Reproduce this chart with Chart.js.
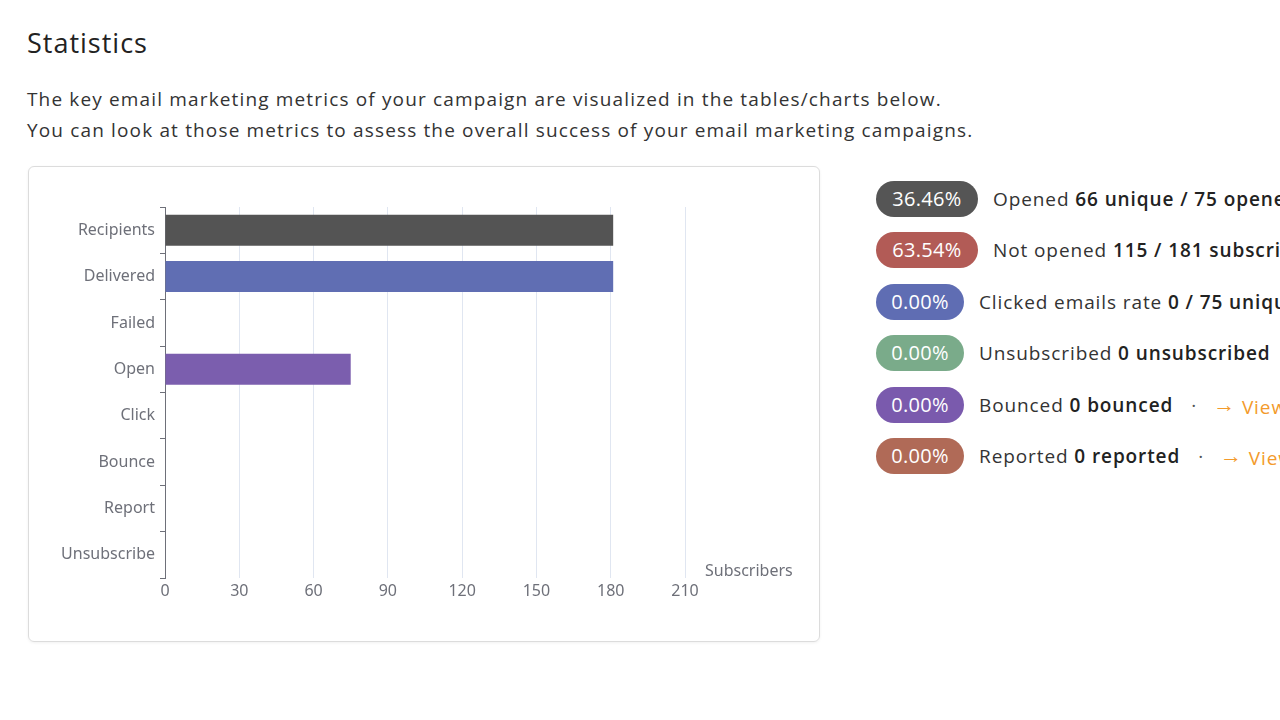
<!DOCTYPE html>
<html lang="en">
<head>
<meta charset="UTF-8">
<title>Statistics</title>
<script src="https://cdn.jsdelivr.net/npm/chart.js"></script>
<style>
    body { margin: 0; width: 1280px; height: 720px; overflow: hidden; background: #fff; font-family: "Open Sans", sans-serif; color: #2b2b2b; position: relative; }
    h2 { position: absolute; left: 27px; top: 25px; margin: 0; font-weight: 400; font-size: 27px; letter-spacing: 1px; line-height: 36px; color: #222; }
    .intro { position: absolute; left: 27px; top: 84px; margin: 0; font-size: 19px; letter-spacing: 1.15px; line-height: 31px; color: #333; white-space: nowrap; }
    .card { position: absolute; left: 28px; top: 166px; width: 790px; height: 474px; border: 1px solid #dcdcdc; border-radius: 6px; box-shadow: 0 1px 3px rgba(0,0,0,0.06); }
    .card canvas { position: absolute; left: 0; top: 0; }
    .stats { position: absolute; left: 876px; top: 181px; width: 404px; overflow: hidden; }
    .row { height: 36px; margin-bottom: 15.4px; display: flex; align-items: center; white-space: nowrap; font-size: 19px; letter-spacing: 0.9px; color: #333; }
    .pill { display: inline-block; height: 36px; line-height: 36px; border-radius: 18px; color: #fff; font-size: 20px; letter-spacing: 0.3px; text-align: center; margin-right: 15px; flex: none; }
    .row b { font-weight: 600; color: #222; }
    .dot { margin: 0 16px 0 18px; color: #555; }
    .view { color: #f39a2b; }
    .view span { font-size: 22px; position: relative; top: -2px; }
</style>
</head>
<body>
<h2>Statistics</h2>
<p class="intro">The key email marketing metrics of your campaign are visualized in the tables/charts below.<br>You can look at those metrics to assess the overall success of your email marketing campaigns.</p>

<div class="card"><canvas id="chart" width="790" height="474"></canvas></div>

<div class="stats">
    <div class="row"><span class="pill" style="background:#555555;width:102px">36.46%</span>Opened&nbsp;<b>66 unique / 75 opened</b></div>
    <div class="row"><span class="pill" style="background:#b25b56;width:102px">63.54%</span>Not opened&nbsp;<b>115 / 181 subscribers</b></div>
    <div class="row"><span class="pill" style="background:#5f6db3;width:88px">0.00%</span>Clicked emails rate&nbsp;<b>0 / 75 unique opened</b></div>
    <div class="row"><span class="pill" style="background:#7aab8a;width:88px">0.00%</span>Unsubscribed&nbsp;<b>0 unsubscribed</b></div>
    <div class="row"><span class="pill" style="background:#7a5aad;width:88px">0.00%</span>Bounced&nbsp;<b>0 bounced</b><span class="dot">·</span><span class="view"><span>→</span> View</span></div>
    <div class="row"><span class="pill" style="background:#b06a57;width:88px">0.00%</span>Reported&nbsp;<b>0 reported</b><span class="dot">·</span><span class="view"><span>→</span> View</span></div>
</div>

<script>
    const categories = ["Recipients", "Delivered", "Failed", "Open", "Click", "Bounce", "Report", "Unsubscribe"];
    const subscribers = [181, 181, 0, 75, 0, 0, 0, 0];
    const barColors = ["#545454", "#606eb3", "#b25b56", "#7b5eae", "#5f6db3", "#7a5aad", "#b06a57", "#7aab8a"];
    const xTicks = [0, 30, 60, 90, 120, 150, 180, 210];
    const axisName = "Subscribers";

    const axisColor = "#6e7079";
    const chartFont = { family: "'Noto Sans', sans-serif", size: 16 };

    // ECharts-style axis name drawn at the end of the value axis
    const axisNamePlugin = {
        id: "axisName",
        afterDraw(chart) {
            const ctx = chart.ctx;
            const area = chart.chartArea;
            ctx.save();
            ctx.font = "16px 'Noto Sans', sans-serif";
            ctx.fillStyle = axisColor;
            ctx.textAlign = "left";
            ctx.textBaseline = "middle";
            ctx.fillText(axisName, area.right + 20, area.bottom - 7);
            ctx.restore();
        }
    };

    new Chart(document.getElementById("chart"), {
        type: "bar",
        data: {
            labels: categories,
            datasets: [{
                label: axisName,
                data: subscribers,
                backgroundColor: barColors,
                barPercentage: 0.67,
                categoryPercentage: 1
            }]
        },
        options: {
            indexAxis: "y",
            responsive: false,
            animation: false,
            layout: { padding: { left: 20, right: 134, top: 40, bottom: 33 } },
            plugins: { legend: { display: false }, tooltip: { enabled: false } },
            scales: {
                x: {
                    min: xTicks[0],
                    max: xTicks[xTicks.length - 1],
                    ticks: { stepSize: 30, color: axisColor, font: chartFont, padding: 4 },
                    grid: { color: "#e0e6f1", drawTicks: false },
                    border: { display: false },
                    afterFit(scale) { scale.height = 30; }
                },
                y: {
                    ticks: { color: axisColor, font: chartFont, padding: 5 },
                    grid: { offset: true, drawOnChartArea: false, color: axisColor, tickLength: 5 },
                    border: { display: true, color: axisColor, width: 1 },
                    afterFit(scale) { scale.width = 116; }
                }
            }
        },
        plugins: [axisNamePlugin]
    });
</script>
</body>
</html>
